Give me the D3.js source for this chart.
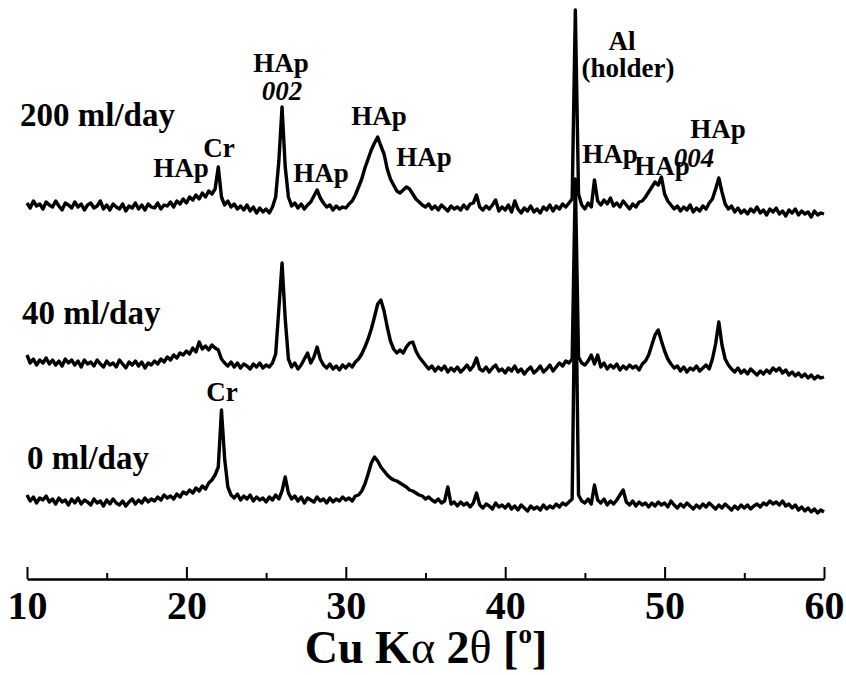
<!DOCTYPE html>
<html><head><meta charset="utf-8">
<script src="https://cdn.jsdelivr.net/npm/d3@7"></script>
<style>
html,body{margin:0;padding:0;background:#fff;}
svg{display:block;}
text{font-family:"Liberation Serif","Times New Roman",Times,serif;font-weight:bold;fill:#000;}
</style>
</head><body>
<svg id="chart" width="846" height="675"></svg>
<script>
// XRD scan: 2θ from 10° to 60°, step 0.2°
const scanStart = 10, scanStep = 0.2;
const seriesNames = ["0 ml/day", "40 ml/day", "200 ml/day"];
const seriesOffsets = [0, 140, 290];

const int0 = [
84,78,82,76,81, 79,83,77,80,75, 81,77,79,74,80, 76,81,75,79,77, 74,80,76,78,73,
79,75,80,76,74, 78,73,77,80,75, 79,76,81,77,80, 78,82,79,84,81, 83,80,85,82,87,
85,89,86,91,88, 93,90,96,99,104, 112,169,120,92,84, 81,85,79,83,80, 84,78,82,79,81,
77,82,79,84,80, 88,102,86,80,83, 78,82,76,81,79, 77,82,78,80,76, 81,77,80,78,82,
79,81,78,83,84, 88,95,105,116,122, 118,112,108,104,101, 99,98,96,94,92, 89,88,86,84,83,
80,82,79,77,80, 76,78,92,75,77, 73,77,74,76,72, 76,86,74,71,75, 73,70,76,72,74,
71,75,70,73,69, 74,71,68,73,70, 72,69,74,70,73, 71,75,72,76,74, 77,80,330,84,78,
76,80,75,94,79, 76,80,74,78,75, 79,84,89,77,74, 78,73,77,74,76, 72,76,73,77,74,
76,72,78,74,71, 75,72,76,73,70, 74,71,75,72,76, 73,70,74,71,75, 72,69,73,70,74,
71,74,70,73,75, 72,76,74,78,75, 77,74,78,73,75, 71,74,69,72,68, 71,67,70,66,69,
67];

const int40 = [
84,76,80,74,79, 76,81,75,79,74, 78,73,80,76,79, 74,78,72,79,75, 77,73,79,75,72,
78,74,76,72,79, 75,71,77,74,78, 73,77,71,76,74, 78,75,80,77,82, 79,84,81,86,84,
88,85,91,87,97, 90,93,89,94,91, 89,80,76,73,77, 72,76,71,75,73, 70,75,72,76,71,
74,72,76,85,130, 176,120,80,72,76, 70,74,80,86,76, 82,92,80,74,71, 75,70,73,69,74,
71,75,72,77,80, 85,92,100,110,122, 135,139,128,112,98, 90,86,89,86,92, 96,97,88,82,78,
74,70,73,68,72, 69,73,67,71,68, 72,67,70,74,69, 73,81,70,68,72, 67,71,74,68,70,
66,71,68,73,67, 70,65,69,72,66, 69,73,67,70,74, 68,72,76,73,78, 76,80,260,82,76,
74,78,84,75,84, 72,76,70,74,71, 75,69,73,70,74, 71,73,69,75,78, 84,94,104,109,98,
88,80,75,71,73, 68,72,67,71,69, 73,68,71,74,70, 80,95,117,94,80, 74,70,67,71,66,
69,65,70,67,64, 68,65,69,66,71, 68,71,66,69,64, 67,63,66,62,65, 61,64,60,63,61,
62];

const int200 = [
86,81,88,83,85, 80,87,84,82,88, 83,79,86,84,81, 87,82,85,79,84, 86,81,83,88,80,
84,79,85,82,80, 85,78,83,81,86, 80,84,79,85,82, 81,86,80,84,83, 87,82,88,85,90,
86,92,89,94,90, 96,92,98,95,100, 122,92,84,88,82, 85,80,83,79,84, 78,82,76,81,77,
80,76,82,92,128, 182,122,92,83,86, 81,85,80,84,87, 93,99,91,86,82, 84,79,83,80,82,
81,85,88,94,102, 110,121,130,139,146, 152,143,135,120,110, 104,98,96,99,102, 100,95,90,87,84,
82,85,80,83,79, 84,81,78,83,80, 82,79,84,80,85, 86,94,82,79,83, 80,84,89,78,82,
79,84,77,88,80, 76,81,78,83,77, 80,76,82,79,84, 78,83,80,85,82, 86,90,279,95,84,
80,86,82,109,88, 84,89,85,91,83, 86,82,88,84,80, 85,82,87,88,92, 97,102,107,104,112,
95,88,84,80,83, 78,82,79,84,77, 81,78,83,80,86, 90,100,111,97,85, 80,83,77,81,76,
79,75,80,77,82, 76,79,74,80,77, 81,75,78,73,79, 76,80,74,78,75, 77,72,78,74,76,
75];

const seriesValues = [int0, int40, int200];

const majorTicks = [10, 20, 30, 40, 50, 60];
const minorTicks = [15, 25, 35, 45, 55];

// peak annotations: text, 2θ, level (same units as the intensities, above the axis)
const peakText  = ["HAp","Cr","HAp","002","HAp","HAp","HAp","Al","(holder)","HAp","HAp","004","HAp","Cr"];
const peakTheta = [19.66,22.05,25.93,26.0,28.44,32.08,34.9,47.33,47.7,46.57,49.84,51.85,53.35,22.23];
const peakLevel = [402,422,507,479,397,454,413,529,502,416,404,412,441,178];
const peakItalic= [false,false,false,true,false,false,false,false,false,false,false,true,false,false];

const svg = d3.select("#chart");

const x = d3.scaleLinear().domain([10, 60]).range([27, 824]);
const y = d3.scaleLinear().domain([0, 580]).range([579, -1]);

// axis
const axisG = svg.append("g").attr("transform", `translate(0,${y(0)})`);
const major = d3.axisBottom(x).tickValues(majorTicks).tickFormat(d3.format("d"))
  .tickSizeInner(-12).tickSizeOuter(0).tickPadding(12);
axisG.call(major);
axisG.select(".domain").attr("stroke", "#000").attr("stroke-width", 2.6);
axisG.selectAll(".tick line").attr("stroke", "#000").attr("stroke-width", 2);
axisG.selectAll(".tick text")
  .style("font-family", '"Liberation Serif","Times New Roman",serif')
  .style("font-weight", "bold").style("font-size", "40px").attr("fill", "#000");

const minorG = svg.append("g").attr("transform", `translate(0,${y(0)})`);
minorG.call(d3.axisBottom(x).tickValues(minorTicks).tickFormat("").tickSizeInner(-6).tickSizeOuter(0));
minorG.select(".domain").remove();
minorG.selectAll(".tick line").attr("stroke", "#000").attr("stroke-width", 2);

// axis title
const t = svg.append("text").attr("x", 426).attr("y", 663).attr("text-anchor", "middle")
  .style("font-size", "46px");
t.append("tspan").text("Cu K");
t.append("tspan").text("α").style("font-weight", "normal");
t.append("tspan").text(" 2");
t.append("tspan").text("θ").style("font-weight", "normal");
t.append("tspan").text(" [");
t.append("tspan").text("o").style("font-size", "27px").attr("dy", -20);
t.append("tspan").text("]").attr("dy", 20);

// traces
const line = d3.line()
  .x((d, i) => x(scanStart + i * scanStep))
  .curve(d3.curveLinear);

seriesValues.forEach((vals, k) => {
  const off = seriesOffsets[k];
  svg.append("path")
    .datum(vals)
    .attr("fill", "none")
    .attr("stroke", "#000")
    .attr("stroke-width", 3.4)
    .attr("stroke-linejoin", "round")
    .attr("d", line.y(d => y(d + off)));
});

// series labels
const seriesLabelPos = [[27, 469], [22, 324], [20, 126]];
seriesNames.forEach((n, k) => {
  svg.append("text").attr("x", seriesLabelPos[k][0]).attr("y", seriesLabelPos[k][1])
    .style("font-size", "33px").text(n);
});

// peak labels
peakText.forEach((s, i) => {
  svg.append("text")
    .attr("x", x(peakTheta[i]))
    .attr("y", y(peakLevel[i]))
    .attr("text-anchor", "middle")
    .style("font-size", "27px")
    .style("font-style", peakItalic[i] ? "italic" : "normal")
    .text(s);
});
</script>
</body></html>
